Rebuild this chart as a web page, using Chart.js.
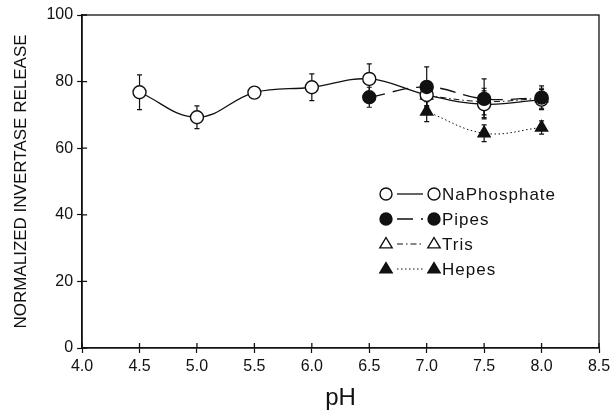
<!DOCTYPE html>
<html>
<head>
<meta charset="utf-8">
<script src="https://cdn.jsdelivr.net/npm/chart.js@4/dist/chart.umd.min.js"></script>
<style>
  html, body { margin: 0; padding: 0; background: #fff; }
  #wrap { width: 616px; height: 413px; }
</style>
</head>
<body>
<div id="wrap"><canvas id="chart" width="616" height="413"></canvas></div>
<script>
// values
const phNaPhosphate = [4.5, 5.0, 5.5, 6.0, 6.5, 7.0, 7.5, 8.0];
const naPhosphate = [76.8, 69.3, 76.7, 78.3, 80.8, 76.0, 73.2, 74.6];
const naPhosphateErr = [5.2, 3.4, 1.0, 4.0, 4.5, 4.0, 4.0, 3.0];

const phPipes = [6.5, 7.0, 7.5, 8.0];
const pipes = [75.3, 78.4, 74.8, 75.2];
const pipesErr = [3.0, 6.0, 6.0, 3.5];

const phTris = [7.0, 7.5, 8.0];
const tris = [75.8, 74.0, 75.0];
const trisErr = [3.0, 4.0, 3.0];

const phHepes = [7.0, 7.5, 8.0];
const hepes = [71.0, 64.5, 66.2];
const hepesErr = [3.0, 2.5, 2.0];

const xTicks = [4.0, 4.5, 5.0, 5.5, 6.0, 6.5, 7.0, 7.5, 8.0, 8.5];
const yTicks = [0, 20, 40, 60, 80, 100];

const FONT = "'Liberation Sans', Arial, sans-serif";
const INK = "#111";

const toPoints = (xs, ys) => xs.map((x, i) => ({ x: x, y: ys[i] }));

function series(label, xs, ys, errs, opt) {
  return Object.assign({
    label: label,
    data: toPoints(xs, ys),
    errors: errs,
    borderColor: INK,
    pointBorderColor: INK,
    borderWidth: 1.3,
    pointBorderWidth: 1.4,
    pointRadius: 6.5,
    tension: 0.4,
    fill: false
  }, opt);
}

const datasets = [
  series("Pipes", phPipes, pipes, pipesErr, {
    pointStyle: "circle", pointBackgroundColor: INK, borderDash: [16, 8], order: 1
  }),
  series("NaPhosphate", phNaPhosphate, naPhosphate, naPhosphateErr, {
    pointStyle: "circle", pointBackgroundColor: "#fff", order: 2
  }),
  series("Hepes", phHepes, hepes, hepesErr, {
    pointStyle: "triangle", pointBackgroundColor: INK, pointRadius: 7, borderWidth: 1,
    borderDash: [1.5, 2.5], order: 3
  }),
  series("Tris", phTris, tris, trisErr, {
    pointStyle: "triangle", pointBackgroundColor: "#fff", pointRadius: 7,
    borderDash: [6, 3, 1.5, 3], borderWidth: 1, order: 4
  })
];

const legendOrder = ["NaPhosphate", "Pipes", "Tris", "Hepes"];

function drawMarker(ctx, style, fill, x, y, r) {
  ctx.save();
  ctx.lineWidth = 1.4;
  ctx.strokeStyle = INK;
  ctx.fillStyle = fill;
  ctx.beginPath();
  if (style === "triangle") {
    ctx.moveTo(x, y - r);
    ctx.lineTo(x + r * 0.95, y + r * 0.6);
    ctx.lineTo(x - r * 0.95, y + r * 0.6);
    ctx.closePath();
  } else {
    ctx.arc(x, y, r, 0, Math.PI * 2);
  }
  ctx.fill();
  ctx.stroke();
  ctx.restore();
}

const frameAndExtras = {
  id: "frameAndExtras",
  beforeDatasetsDraw(chart) {
    const ctx = chart.ctx;
    const xs = chart.scales.x, ys = chart.scales.y;
    ctx.save();
    ctx.strokeStyle = INK;
    ctx.lineWidth = 1.2;
    chart.data.datasets.forEach(ds => {
      ds.data.forEach((p, i) => {
        const e = ds.errors[i];
        const px = xs.getPixelForValue(p.x);
        const top = ys.getPixelForValue(p.y + e);
        const bot = ys.getPixelForValue(p.y - e);
        ctx.beginPath();
        ctx.moveTo(px, top); ctx.lineTo(px, bot);
        ctx.moveTo(px - 2.5, top); ctx.lineTo(px + 2.5, top);
        ctx.moveTo(px - 2.5, bot); ctx.lineTo(px + 2.5, bot);
        ctx.stroke();
      });
    });
    ctx.restore();
  },
  afterDraw(chart) {
    const ctx = chart.ctx;
    const a = chart.chartArea;
    const xs = chart.scales.x, ys = chart.scales.y;
    ctx.save();
    ctx.strokeStyle = INK;
    ctx.lineWidth = 1.3;
    ctx.strokeRect(a.left, a.top, a.right - a.left, a.bottom - a.top);
    // inner halves of the ticks
    ctx.beginPath();
    xTicks.forEach(v => {
      const px = xs.getPixelForValue(v);
      ctx.moveTo(px, a.bottom); ctx.lineTo(px, a.bottom - 5);
    });
    yTicks.forEach(v => {
      const py = ys.getPixelForValue(v);
      ctx.moveTo(a.left, py); ctx.lineTo(a.left + 5, py);
    });
    ctx.stroke();

    // legend: marker - line - marker  label
    const x0 = 386, rowGap = 25, y0 = 194;
    legendOrder.forEach((name, i) => {
      const ds = chart.data.datasets.find(d => d.label === name);
      const y = y0 + i * rowGap;
      const r = ds.pointStyle === "triangle" ? 6.5 : 6;
      drawMarker(ctx, ds.pointStyle, ds.pointBackgroundColor, x0, y, r);
      ctx.save();
      ctx.strokeStyle = INK;
      ctx.lineWidth = ds.borderWidth;
      ctx.setLineDash(ds.borderDash || []);
      ctx.beginPath();
      ctx.moveTo(x0 + 11, y); ctx.lineTo(x0 + 37, y);
      ctx.stroke();
      ctx.restore();
      drawMarker(ctx, ds.pointStyle, ds.pointBackgroundColor, x0 + 48, y, r);
      ctx.save();
      ctx.fillStyle = INK;
      ctx.font = "17px " + FONT;
      ctx.letterSpacing = "1px";
      ctx.textBaseline = "middle";
      ctx.textAlign = "left";
      ctx.fillText(name, x0 + 56, y + 1);
      ctx.restore();
    });
    ctx.restore();
  }
};

new Chart(document.getElementById("chart").getContext("2d"), {
  type: "line",
  data: { datasets },
  options: {
    responsive: false,
    animation: false,
    layout: { padding: { top: 15, right: 17, left: 11, bottom: 0 } },
    plugins: {
      legend: { display: false },
      tooltip: { enabled: false }
    },
    scales: {
      x: {
        type: "linear",
        min: 4.0,
        max: 8.5,
        afterBuildTicks: s => { s.ticks = xTicks.map(v => ({ value: v })); },
        ticks: {
          color: INK,
          font: { family: FONT, size: 16 },
          padding: 4,
          maxRotation: 0,
          callback: v => v.toFixed(1)
        },
        grid: { drawOnChartArea: false, color: INK, tickLength: 5, tickWidth: 1.2 },
        border: { color: INK, width: 1.3 },
        title: { display: true, text: "pH", color: INK, font: { family: FONT, size: 24 }, padding: { top: 4, bottom: 0 } }
      },
      y: {
        min: 0,
        max: 100,
        afterBuildTicks: s => { s.ticks = yTicks.map(v => ({ value: v })); },
        ticks: {
          color: INK,
          font: { family: FONT, size: 16 },
          padding: 4
        },
        grid: { drawOnChartArea: false, color: INK, tickLength: 5, tickWidth: 1.2 },
        border: { color: INK, width: 1.3 },
        title: { display: true, text: "NORMALIZED INVERTASE RELEASE", color: INK, font: { family: FONT, size: 17 }, padding: { top: 0, bottom: 11 } }
      }
    }
  },
  plugins: [frameAndExtras]
});
</script>
</body>
</html>
